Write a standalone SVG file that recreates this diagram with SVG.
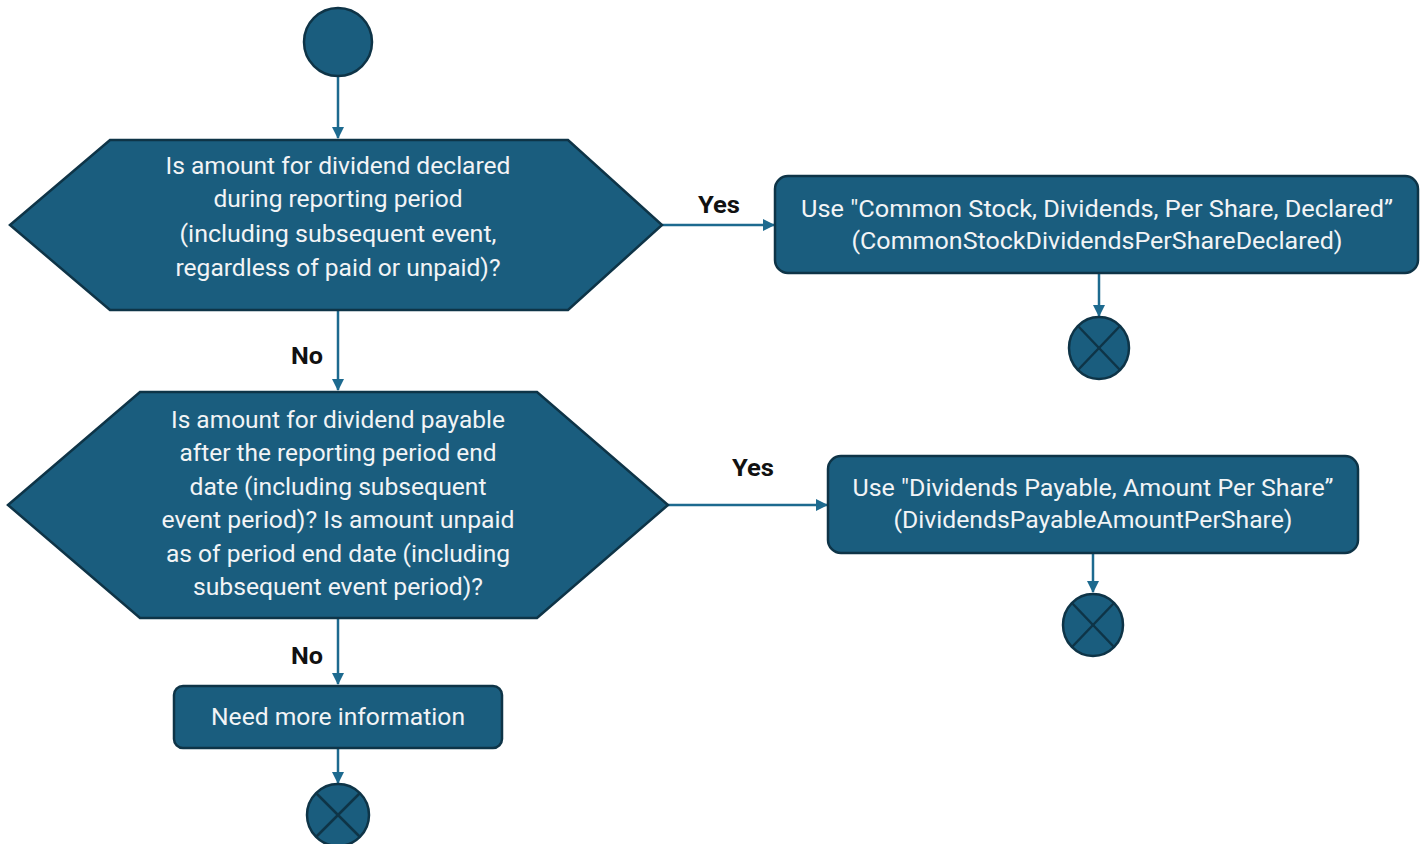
<svg xmlns="http://www.w3.org/2000/svg" width="1425" height="844" viewBox="0 0 1425 844">
<defs>
<marker id="ah" markerWidth="12" markerHeight="12" refX="11" refY="6" orient="auto" markerUnits="userSpaceOnUse">
<path d="M0,0 L12,6 L0,12 Z" fill="#1d6a8f"/>
</marker>
<style>
.shape{fill:#1a5d7e;stroke:#0e3447;stroke-width:2.5}
.t{fill:#f2f4f6;font-family:"Liberation Sans Narrow","Roboto",sans-serif;font-size:23px;text-anchor:middle;dominant-baseline:central}
.lbl{fill:#111;font-family:"Liberation Sans Narrow","Roboto",sans-serif;font-size:24px;font-weight:bold;text-anchor:middle;dominant-baseline:central}
.c{stroke:#1d6a8f;stroke-width:2.5;fill:none;marker-end:url(#ah)}
.x{stroke:#0e3447;stroke-width:2.5}
</style>
</defs>
<rect width="1425" height="844" fill="#ffffff"/>
<g id="connectors">
<line class="c" x1="338" y1="77" x2="338" y2="138"/>
<line class="c" x1="662" y1="225" x2="774" y2="225"/>
<line class="c" x1="338" y1="311" x2="338" y2="390"/>
<line class="c" x1="1099" y1="274" x2="1099" y2="316"/>
<line class="c" x1="668" y1="505" x2="827" y2="505"/>
<line class="c" x1="1093" y1="554" x2="1093" y2="592"/>
<line class="c" x1="338" y1="619" x2="338" y2="684"/>
<line class="c" x1="338" y1="749" x2="338" y2="783"/>
<text class="lbl" x="719" y="205" textLength="42" lengthAdjust="spacingAndGlyphs">Yes</text>
<text class="lbl" x="307" y="356" textLength="32" lengthAdjust="spacingAndGlyphs">No</text>
<text class="lbl" x="753" y="468" textLength="42" lengthAdjust="spacingAndGlyphs">Yes</text>
<text class="lbl" x="307" y="656" textLength="32" lengthAdjust="spacingAndGlyphs">No</text>
</g>
<g id="start">
<circle class="shape" cx="338" cy="42" r="34"/>
</g>
<g id="decision1">
<polygon class="shape" points="10,225 110,140 568,140 662,225 568,310 110,310"/>
<text class="t" x="338" y="166" textLength="345" lengthAdjust="spacingAndGlyphs">Is amount for dividend declared</text>
<text class="t" x="338" y="199" textLength="249" lengthAdjust="spacingAndGlyphs">during reporting period</text>
<text class="t" x="338" y="234" textLength="317" lengthAdjust="spacingAndGlyphs">(including subsequent event,</text>
<text class="t" x="338" y="268" textLength="325" lengthAdjust="spacingAndGlyphs">regardless of paid or unpaid)?</text>
</g>
<g id="action1">
<rect class="shape" x="775" y="176" width="643" height="97" rx="13"/>
<text class="t" x="1097" y="209" textLength="592" lengthAdjust="spacingAndGlyphs">Use "Common Stock, Dividends, Per Share, Declared”</text>
<text class="t" x="1097" y="241" textLength="491" lengthAdjust="spacingAndGlyphs">(CommonStockDividendsPerShareDeclared)</text>
</g>
<g id="end1">
<ellipse class="shape" cx="1099" cy="348" rx="30" ry="31"/>
<line class="x" x1="1078" y1="326" x2="1120" y2="370"/>
<line class="x" x1="1120" y1="326" x2="1078" y2="370"/>
</g>
<g id="decision2">
<polygon class="shape" points="8,505 140,392 537,392 668,505 537,618 140,618"/>
<text class="t" x="338" y="420" textLength="334" lengthAdjust="spacingAndGlyphs">Is amount for dividend payable</text>
<text class="t" x="338" y="453" textLength="317" lengthAdjust="spacingAndGlyphs">after the reporting period end</text>
<text class="t" x="338" y="487" textLength="297" lengthAdjust="spacingAndGlyphs">date (including subsequent</text>
<text class="t" x="338" y="520" textLength="353" lengthAdjust="spacingAndGlyphs">event period)? Is amount unpaid</text>
<text class="t" x="338" y="554" textLength="344" lengthAdjust="spacingAndGlyphs">as of period end date (including</text>
<text class="t" x="338" y="587" textLength="290" lengthAdjust="spacingAndGlyphs">subsequent event period)?</text>
</g>
<g id="action2">
<rect class="shape" x="828" y="456" width="530" height="97" rx="13"/>
<text class="t" x="1093" y="488" textLength="481" lengthAdjust="spacingAndGlyphs">Use "Dividends Payable, Amount Per Share”</text>
<text class="t" x="1093" y="520" textLength="399" lengthAdjust="spacingAndGlyphs">(DividendsPayableAmountPerShare)</text>
</g>
<g id="end2">
<ellipse class="shape" cx="1093" cy="625" rx="30" ry="31"/>
<line class="x" x1="1072" y1="603" x2="1114" y2="647"/>
<line class="x" x1="1114" y1="603" x2="1072" y2="647"/>
</g>
<g id="action3">
<rect class="shape" x="174" y="686" width="328" height="62" rx="9"/>
<text class="t" x="338" y="717" textLength="254" lengthAdjust="spacingAndGlyphs">Need more information</text>
</g>
<g id="end3">
<circle class="shape" cx="338" cy="815" r="31"/>
<line class="x" x1="316" y1="793" x2="360" y2="837"/>
<line class="x" x1="360" y1="793" x2="316" y2="837"/>
</g>
</svg>
